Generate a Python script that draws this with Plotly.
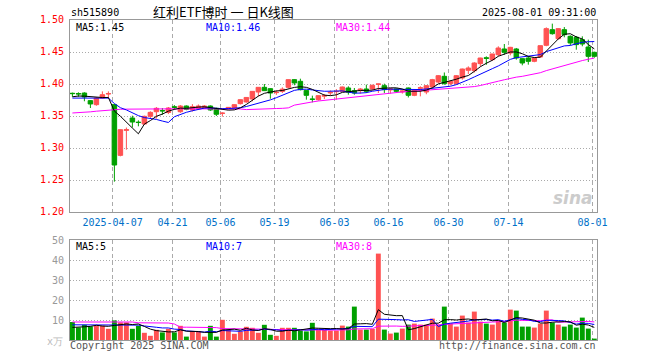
import plotly.graph_objects as go
import pandas as pd

# ---------------- data ----------------
tick_index = [7, 17, 25, 34, 44, 53, 63, 73, 87]
tick_labels = ["2025-04-07", "04-21", "05-06", "05-19", "06-03", "06-16", "06-30", "07-14", "08-01"]

opens = [1.3855, 1.3850, 1.3859, 1.3740, 1.3677, 1.3780, 1.3845, 1.3677, 1.2885, 1.3276,
         1.3469, 1.3404, 1.3375, 1.3495, 1.3567, 1.3585, 1.3555, 1.3645, 1.3567, 1.3656,
         1.3594, 1.3614, 1.3625, 1.3656, 1.3620, 1.3540, 1.3615, 1.3625, 1.3693, 1.3719,
         1.3766, 1.3875, 1.3948, 1.3927, 1.3865, 1.3885, 1.3948, 1.4068, 1.4042, 1.3900,
         1.3766, 1.3755, 1.3810, 1.3860, 1.3880, 1.3885, 1.3938, 1.3896, 1.3896, 1.3922,
         1.3922, 1.3995, 1.3974, 1.3907, 1.3922, 1.3875, 1.3938, 1.3823, 1.3935, 1.3875,
         1.3953, 1.4031, 1.4120, 1.4005, 1.4005, 1.4094, 1.4214, 1.4208, 1.4318, 1.4410,
         1.4380, 1.4458, 1.4547, 1.4484, 1.4547, 1.4396, 1.4406, 1.4354, 1.4422, 1.4604,
         1.4849, 1.4708, 1.4849, 1.4745, 1.4730, 1.4693, 1.4578, 1.4495]
highs = [1.3865, 1.3870, 1.3870, 1.3750, 1.3790, 1.3885, 1.3885, 1.3688, 1.3290, 1.3320,
         1.3505, 1.3432, 1.3505, 1.3573, 1.3640, 1.3625, 1.3640, 1.3670, 1.3670, 1.3665,
         1.3685, 1.3680, 1.3670, 1.3665, 1.3630, 1.3557, 1.3640, 1.3680, 1.3760, 1.3795,
         1.3885, 1.3950, 1.4000, 1.3935, 1.3900, 1.3948, 1.4070, 1.4075, 1.4083, 1.3905,
         1.3818, 1.3820, 1.3844, 1.3900, 1.3920, 1.3960, 1.3964, 1.3938, 1.3938, 1.3990,
         1.3990, 1.4005, 1.4005, 1.3938, 1.3930, 1.3900, 1.3945, 1.3900, 1.3964, 1.3980,
         1.4080, 1.4140, 1.4180, 1.4050, 1.4140, 1.4240, 1.4276, 1.4340, 1.4410, 1.4432,
         1.4470, 1.4589, 1.4625, 1.4580, 1.4563, 1.4400, 1.4432, 1.4410, 1.4600, 1.4885,
         1.4943, 1.4870, 1.4890, 1.4760, 1.4750, 1.4745, 1.4693, 1.4505]
lows = [1.3800, 1.3800, 1.3730, 1.3625, 1.3660, 1.3776, 1.3780, 1.2474, 1.2870, 1.2974,
        1.3320, 1.3339, 1.3365, 1.3469, 1.3460, 1.3520, 1.3530, 1.3600, 1.3550, 1.3590,
        1.3570, 1.3600, 1.3610, 1.3580, 1.3500, 1.3490, 1.3600, 1.3615, 1.3680, 1.3710,
        1.3730, 1.3807, 1.3890, 1.3770, 1.3830, 1.3860, 1.3930, 1.3980, 1.3900, 1.3755,
        1.3713, 1.3740, 1.3766, 1.3820, 1.3755, 1.3880, 1.3833, 1.3833, 1.3850, 1.3860,
        1.3907, 1.3860, 1.3860, 1.3850, 1.3860, 1.3850, 1.3790, 1.3810, 1.3807, 1.3840,
        1.3940, 1.4010, 1.3990, 1.3980, 1.3990, 1.4068, 1.4156, 1.4180, 1.4276, 1.4300,
        1.4360, 1.4432, 1.4458, 1.4448, 1.4380, 1.4292, 1.4302, 1.4340, 1.4410, 1.4590,
        1.4771, 1.4700, 1.4730, 1.4604, 1.4536, 1.4589, 1.4344, 1.4410]
closes = [1.3850, 1.3845, 1.3797, 1.3688, 1.3781, 1.3833, 1.3849, 1.2734, 1.3286, 1.3286,
          1.3406, 1.3398, 1.3495, 1.3557, 1.3620, 1.3580, 1.3625, 1.3635, 1.3656, 1.3604,
          1.3646, 1.3656, 1.3656, 1.3594, 1.3527, 1.3545, 1.3635, 1.3677, 1.3755, 1.3790,
          1.3885, 1.3948, 1.3896, 1.3859, 1.3870, 1.3920, 1.4068, 1.4016, 1.3911, 1.3823,
          1.3760, 1.3818, 1.3820, 1.3870, 1.3885, 1.3953, 1.3875, 1.3860, 1.3922, 1.3885,
          1.3980, 1.4000, 1.3912, 1.3922, 1.3885, 1.3890, 1.3823, 1.3896, 1.3940, 1.3974,
          1.4068, 1.4130, 1.4005, 1.4042, 1.4130, 1.4234, 1.4250, 1.4328, 1.4406, 1.4401,
          1.4469, 1.4562, 1.4495, 1.4573, 1.4406, 1.4328, 1.4354, 1.4406, 1.4599, 1.4865,
          1.4786, 1.4865, 1.4771, 1.4641, 1.4615, 1.4625, 1.4432, 1.4432]
volumes = [9.0, 6.3, 7.6, 6.8, 7.1, 7.1, 5.6, 9.8, 8.8, 8.8,
           5.6, 7.1, 3.6, 2.1, 5.1, 3.8, 5.6, 3.8, 7.1, 1.7,
           4.3, 4.3, 1.7, 7.1, 1.7, 10.1, 5.1, 3.1, 4.3, 6.6,
           6.1, 3.6, 7.6, 2.6, 2.1, 6.1, 6.1, 6.1, 4.8, 4.3,
           8.6, 5.6, 5.1, 4.7, 4.7, 7.2, 6.7, 16.7, 5.2, 5.2,
           5.5, 43.2, 5.2, 3.2, 3.7, 5.7, 7.7, 8.2, 7.7, 7.7,
           10.7, 7.7, 16.7, 8.2, 6.7, 12.2, 8.7, 14.2, 9.2, 8.2,
           7.7, 9.7, 8.7, 15.2, 14.7, 6.7, 6.7, 6.2, 8.2, 14.7,
           8.7, 7.7, 6.7, 7.7, 6.2, 11.2, 5.7, 0.7]

# moving-average values at the left edge (earlier data not shown)
ma5_head = [1.3800, 1.3812, 1.3810, 1.3800]
ma10_head = [1.3780, 1.3780, 1.3780, 1.3780, 1.3780, 1.3780, 1.3780, 1.3695, 1.3630]
ma30_head = [1.3547, 1.3550, 1.3557, 1.3565, 1.3575, 1.3585, 1.3595, 1.3600, 1.3605, 1.3607,
             1.3609, 1.3610, 1.3610, 1.3611, 1.3612, 1.3612, 1.3612, 1.3612, 1.3612, 1.3612,
             1.3612, 1.3612, 1.3612, 1.3612, 1.3612, 1.3612, 1.3611, 1.3610, 1.3610]
vma5_head = [6.3, 6.3, 6.6, 6.8]
vma10_head = [7.6, 7.6, 7.6, 7.6, 7.6, 7.6, 7.6, 7.6, 7.6]
vma30_head = [9.0, 9.0, 9.0, 9.0, 9.0, 9.0, 9.0, 9.0, 9.0, 9.0,
              9.0, 8.6, 8.6, 8.5, 8.5, 8.5, 8.5, 8.0, 6.4, 6.4,
              6.4, 6.4, 6.2, 6.2, 6.2, 5.7, 5.7, 5.7, 5.7]

ma_labels = ["MA5:1.45", "MA10:1.46", "MA30:1.44"]
vma_labels = ["MA5:5", "MA10:7", "MA30:8"]

# ---------------- derived ----------------
n = len(closes)
idx = list(range(n))


def moving(values, win, head):
    s = pd.Series(values).rolling(win).mean().tolist()
    return head + s[len(head):]


ma5 = moving(closes, 5, ma5_head)
ma10 = moving(closes, 10, ma10_head)
ma30 = moving(closes, 30, ma30_head)
vma5 = moving(volumes, 5, vma5_head)
vma10 = moving(volumes, 10, vma10_head)
vma30 = moving(volumes, 30, vma30_head)

RED = "#FF5252"
GREEN = "#00A000"
MONO = "DejaVu Sans Mono"
vol_colors = [RED if c >= o else GREEN for o, c in zip(opens, closes)]

fig = go.Figure()
fig.add_trace(go.Candlestick(
    x=idx, open=opens, high=highs, low=lows, close=closes,
    increasing=dict(line=dict(color=RED, width=1), fillcolor=RED),
    decreasing=dict(line=dict(color=GREEN, width=1), fillcolor=GREEN),
    whiskerwidth=0, xaxis="x", yaxis="y", hoverinfo="skip"))
for vals, col in [(ma30, "#FF00FF"), (ma10, "#0000FF"), (ma5, "#000000")]:
    fig.add_trace(go.Scatter(x=idx, y=vals, mode="lines", line=dict(color=col, width=1),
                             xaxis="x", yaxis="y", hoverinfo="skip"))

fig.add_trace(go.Bar(x=idx, y=volumes, marker=dict(color=vol_colors, line=dict(width=0)),
                     width=0.82, xaxis="x2", yaxis="y2", hoverinfo="skip"))
for vals, col in [(vma30, "#FF00FF"), (vma10, "#0000FF"), (vma5, "#000000")]:
    fig.add_trace(go.Scatter(x=idx, y=vals, mode="lines", line=dict(color=col, width=1),
                             xaxis="x2", yaxis="y2", hoverinfo="skip"))

tickvals = [t - 0.3 for t in tick_index]
price_ticks = [1.20, 1.25, 1.30, 1.35, 1.40, 1.45, 1.50]
vol_ticks = [0, 10, 20, 30, 40, 50]

axis_common = dict(showline=True, linecolor="#999999", linewidth=1, mirror=True,
                   zeroline=False, showgrid=True, gridcolor="#AAAAAA", gridwidth=1,
                   automargin=False)

fig.update_layout(
    width=660, height=360,
    margin=dict(l=70, r=63, t=20, b=20, autoexpand=False),
    paper_bgcolor="white", plot_bgcolor="white",
    showlegend=False, hovermode=False,
    boxgap=0.25, boxgroupgap=0,
    bargap=0.2,
    xaxis=dict(domain=[0, 1], range=[-0.4, 87.45], anchor="y",
               tickvals=tickvals, ticktext=tick_labels, ticks="",
               tickfont=dict(family=MONO, size=10, color="#0070C8"),
               griddash="4px,3px", rangeslider=dict(visible=False),
               ticklabelstandoff=1, **axis_common),
    yaxis=dict(domain=[0.4, 1], range=[1.20, 1.50], anchor="x",
               tickvals=price_ticks, ticktext=["%.2f" % v for v in price_ticks], ticks="",
               tickfont=dict(family=MONO, size=10, color="#FF0000"),
               griddash="1px,2px", ticklabelstandoff=3, ticklabelshift=-1, **axis_common),
    xaxis2=dict(domain=[0, 1], range=[-0.4, 87.45], anchor="y2",
                tickvals=tickvals, showticklabels=False, ticks="",
                griddash="4px,3px", **axis_common),
    yaxis2=dict(domain=[0, 0.3125], range=[0, 50], anchor="x2",
                tickvals=vol_ticks, ticktext=[""] + [str(v) for v in vol_ticks[1:]], ticks="",
                tickfont=dict(family=MONO, size=10, color="#999999"),
                griddash="1px,2px", ticklabelstandoff=3, **axis_common),
)


def px_x(px):
    return (px - 70) / 527.0


def px_y(py):
    return (340 - py) / 320.0


def note(text, x, y, anchor="left", color="#000000", size=10, family=MONO):
    fig.add_annotation(text=text, x=px_x(x), y=px_y(y), xref="paper", yref="paper",
                       xanchor=anchor, yanchor="middle", showarrow=False, borderpad=0,
                       font=dict(family=family, size=size, color=color))


note("sh515890", 70, 13)
note("红利ETF博时 一 日K线图", 223, 11.5, anchor="center", size=13, family="Noto Sans CJK SC")
note("2025-08-01 09:31:00", 597, 13, anchor="right")

label_x = [75, 205, 334.7]
label_colors = ["#000000", "#0000FF", "#FF00FF"]
for t, xx, cc in zip(ma_labels, label_x, label_colors):
    note(t, xx, 27.5, color=cc)
for t, xx, cc in zip(vma_labels, label_x, label_colors):
    note(t, xx, 246.5, color=cc)

note("x万", 64, 341, anchor="right", color="#BBBBBB")
note("Copyright 2025 SINA.COM", 69, 345.5, color="#555555")
note("http://finance.sina.com.cn", 597, 345.5, anchor="right", color="#555555")
note("<b><i>sina</i></b>", 594, 198, anchor="right", color="#CCCCCC", size=17, family="DejaVu Sans")

# remove the browser's default page margin so the 660x360 figure fills the window
fig.write_html("out.html",
               config={"displayModeBar": False, "staticPlot": True},
               post_script="document.body.style.margin='0';document.body.style.padding='0';")
